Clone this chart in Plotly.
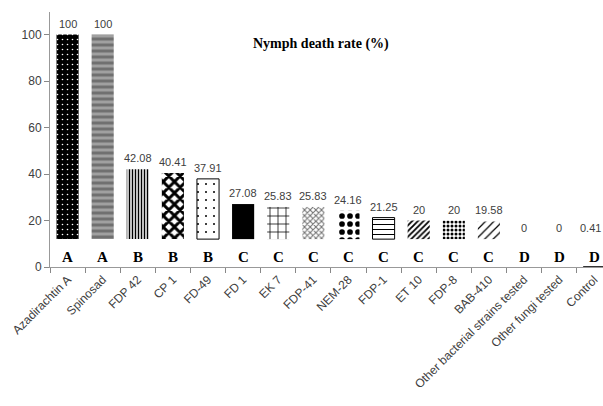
import plotly.graph_objects as go

categories = ["Azadirachtin A", "Spinosad", "FDP 42", "CP 1", "FD-49", "FD 1", "EK 7",
              "FDP-41", "NEM-28", "FDP-1", "ET 10", "FDP-8", "BAB-410",
              "Other bacterial strains tested", "Other fungi tested", "Control"]
values = [100, 100, 42.08, 40.41, 37.91, 27.08, 25.83, 25.83, 24.16, 21.25, 20, 20, 19.58, 0, 0, 0.41]
labels = ["100", "100", "42.08", "40.41", "37.91", "27.08", "25.83", "25.83", "24.16",
          "21.25", "20", "20", "19.58", "0", "0", "0.41"]
groups = ["A", "A", "B", "B", "B", "C", "C", "C", "C", "C", "C", "C", "C", "D", "D", "D"]

MASK = 12  # lower band kept white for the group letters

shapes = [".", "-", "|", "x", ".", "", "+", "x", ".", "-", "/", ".", "/", "", "", ""]
fg = ["white", "#707070", "black", "black", "black", "black", "black", "#707070", "black",
      "black", "black", "black", "black", "black", "black", "#333333"]
bg = ["black", "#a0a0a0", "white", "white", "white", "black", "white", "white", "white",
      "white", "white", "white", "white", "white", "white", "#333333"]
psize = [5, 6, 3, 8, 8, 8, 8, 4, 8, 5, 4, 4, 6, 8, 8, 8]
psol = [0.08, 0.5, 0.5, 0.6, 0.05, 0.3, 0.18, 0.45, 0.4, 0.2, 0.45, 0.45, 0.2, 0.3, 0.3, 0.3]
lw = [0, 0, 0, 0, 1, 0, 0, 0, 0, 1, 0, 0, 0, 0, 0, 0]

fig = go.Figure()
for i, (c, v) in enumerate(zip(categories, values)):
    b = MASK if v > MASK else 0
    pat = dict(shape=shapes[i], fgcolor=fg[i], bgcolor=bg[i], size=psize[i],
               solidity=psol[i], fillmode="replace") if shapes[i] else None
    fig.add_trace(go.Bar(
        x=[c], y=[v - b], base=[b], width=0.63,
        marker=dict(color=bg[i], line=dict(color="black", width=lw[i]), pattern=pat),
        showlegend=False, hoverinfo="skip",
    ))

last = len(categories) - 1
for i, (c, v, t, g) in enumerate(zip(categories, values, labels, groups)):
    fig.add_annotation(x=c, y=max(v, MASK), text=t, showarrow=False, yanchor="bottom",
                       yshift=3, xshift=-4 if i == last else 0,
                       font=dict(family="Liberation Sans", size=11, color="#404040"))
    fig.add_annotation(x=c, y=4.5, text="<b>" + g + "</b>", showarrow=False,
                       font=dict(family="Liberation Serif", size=15, color="black"))

fig.add_annotation(xref="paper", yref="paper", x=0.49, y=0.915, text="<b>Nymph death rate (%)</b>",
                   showarrow=False, font=dict(family="Liberation Serif", size=14, color="black"))

fig.update_layout(
    width=603, height=406, margin=dict(l=50, r=0, t=12, b=139),
    paper_bgcolor="white", plot_bgcolor="white", barmode="overlay",
    xaxis=dict(type="category", categoryorder="array", categoryarray=categories,
               range=[-0.5, 15.25], tickson="boundaries", ticks="outside",
               ticklen=5, tickcolor="#888888", showline=True, linecolor="#999999",
               tickangle=-45, tickfont=dict(family="Liberation Sans", size=12, color="#404040"),
               showgrid=False),
    yaxis=dict(range=[0, 109.7], tickvals=[0, 20, 40, 60, 80, 100], ticks="outside",
               ticklen=5, tickcolor="#888888", showline=True, linecolor="#999999",
               showgrid=False, zeroline=False,
               tickfont=dict(family="Liberation Sans", size=12, color="#404040")),
)

fig.write_html("out.html", config={"displayModeBar": False},
               post_script="document.body.style.margin='0';document.body.style.overflow='hidden';")
